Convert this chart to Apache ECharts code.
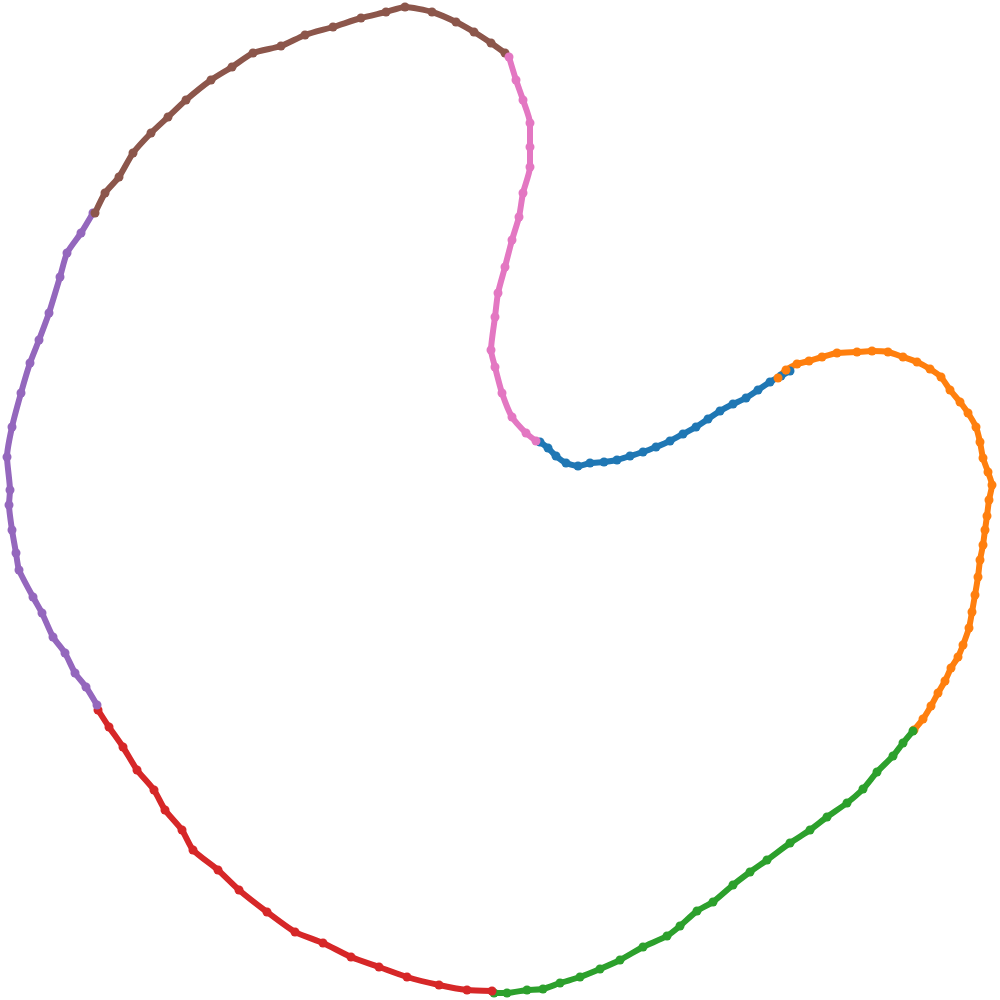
<!DOCTYPE html>
<html>
<head>
<meta charset="utf-8">
<script src="https://cdn.jsdelivr.net/npm/echarts@6/dist/echarts.min.js"></script>
<style>
  html, body { margin: 0; padding: 0; background: #fff; }
  #chart { width: 1000px; height: 1000px; }
</style>
</head>
<body>
<div id="chart"></div>
<script>
// points, one list per coloured stretch of the loop
var blue = [[540,442],[548,448],[556,456],[566,463],[578,466],[590,463],[604,462],[617,460],[630,456],[643,452],[656,447],[670,441],[683,434],[696,427],[708,419],[720,411],[733,404],[746,398],[758,390],[770,382],[781,376],[790,371]];
var orange = [[778,378],[786,370],[797,364],[809,361],[822,357],[837,353],[857,352],[872,351],[888,352],[903,357],[917,362],[930,369],[941,377],[950,390],[960,402],[968,413],[976,427],[980,442],[983,458],[988,472],[992,485],[989,500],[987,516],[985,530],[983,545],[980,560],[978,577],[975,595],[972,612],[969,628],[963,645],[958,657],[951,668],[945,681],[938,693],[931,706],[923,719],[914,730]];
var green = [[913,731],[903,743],[893,756],[877,772],[863,789],[847,803],[827,817],[810,830],[790,843],[767,860],[750,872],[733,885],[713,902],[697,911],[680,926],[667,936],[643,947],[620,960],[600,969],[580,977],[560,983],[543,989],[527,990],[507,993],[494,993]];
var red = [[98,710],[109,727],[123,747],[137,770],[154,790],[165,810],[182,830],[193,850],[218,870],[239,890],[267,912],[295,932],[323,943],[351,957],[379,967],[407,977],[439,985],[467,990],[492,991]];
var purple = [[93,213],[81,233],[67,253],[60,277],[49,313],[39,340],[30,363],[21,393],[12,427],[7,457],[10,490],[9,505],[12,530],[16,553],[19,570],[33,597],[42,613],[53,637],[65,653],[75,673],[86,687],[97,705]];
var brown = [[95,213],[105,193],[119,177],[133,153],[151,133],[168,117],[186,100],[211,80],[232,67],[253,53],[281,46],[305,35],[333,27],[361,18],[386,12],[405,7],[432,12],[456,22],[474,32],[491,43],[505,53]];
var pink = [[509,57],[516,80],[523,100],[530,123],[530,147],[530,167],[523,193],[519,217],[512,240],[505,267],[498,293],[495,317],[491,350],[495,367],[502,393],[512,417],[526,433],[536,441]];

var groups = [
  { data: blue, color: '#1f77b4' },
  { data: orange, color: '#ff7f0e' },
  { data: green, color: '#2ca02c' },
  { data: red, color: '#d62728' },
  { data: purple, color: '#9467bd' },
  { data: brown, color: '#8c564b' },
  { data: pink, color: '#e377c2' }
];

var myChart = echarts.init(document.getElementById('chart'));
var option = {
  animation: false,
  grid: { left: 0, right: 0, top: 0, bottom: 0 },
  xAxis: { type: 'value', min: 0, max: 1000, show: false },
  yAxis: { type: 'value', min: 0, max: 1000, inverse: true, show: false },
  series: groups.map(function (g) {
    return {
      type: 'line',
      data: g.data,
      smooth: 0.2,
      symbol: 'circle',
      symbolSize: 9,
      showSymbol: true,
      itemStyle: { color: g.color, borderWidth: 0 },
      lineStyle: { color: g.color, width: 6 }
    };
  })
};
myChart.setOption(option);
</script>
</body>
</html>
